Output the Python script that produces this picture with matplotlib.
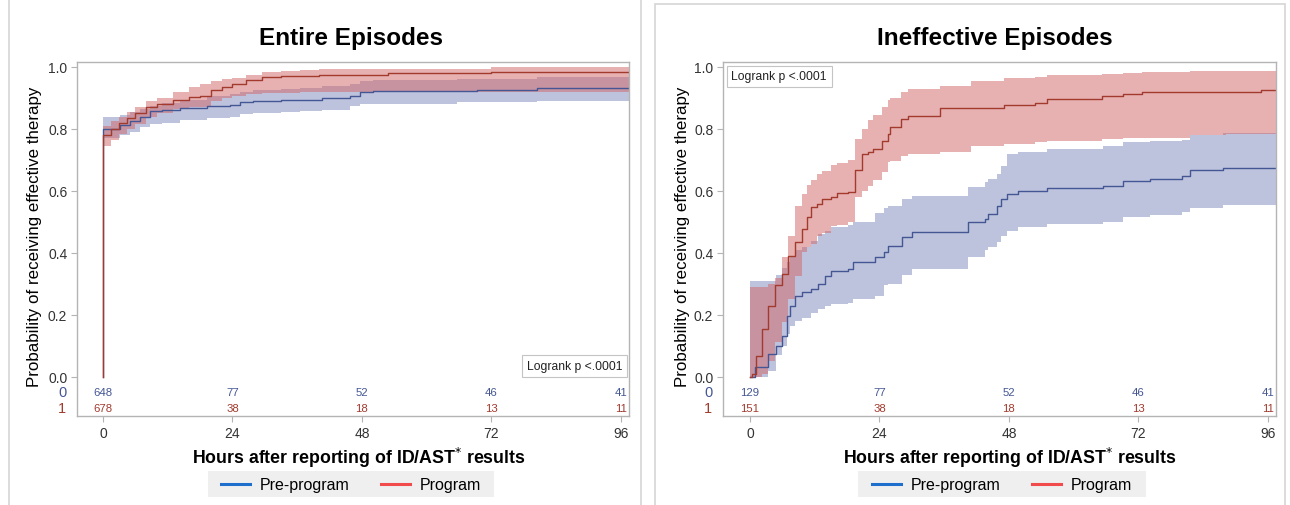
"""
Kaplan-Meier style curves (probability of receiving effective therapy)
for pre-program vs program episodes, entire and ineffective episodes.
"""

import numpy as np
import matplotlib.pyplot as plt
from matplotlib.patches import Rectangle
from matplotlib.lines import Line2D
import matplotlib.transforms as mtransforms

plt.rcParams["font.family"] = ["Liberation Sans", "DejaVu Sans"]

# %% Data (hours, probability)
# Entire episodes - pre-program
ent_pre_t = [0, 0, 3.2, 5, 6.9, 8.7, 11, 14.3, 19.3, 23.5, 25.4, 27.8, 33, 36.5, 40.6, 45.8, 47.6, 50, 65.6, 69.3, 80.4, 97.5]
ent_pre_est = [0, 0.80, 0.813, 0.825, 0.84, 0.859, 0.862, 0.868, 0.875, 0.877, 0.886, 0.89, 0.893, 0.894, 0.899, 0.906, 0.919, 0.921, 0.924, 0.927, 0.932, 0.932]
ent_pre_hi = [0, 0.84, 0.845, 0.855, 0.865, 0.875, 0.885, 0.895, 0.905, 0.912, 0.92, 0.925, 0.93, 0.932, 0.94, 0.945, 0.955, 0.957, 0.96, 0.962, 0.966, 0.966]
ent_pre_lo = [0, 0.77, 0.78, 0.79, 0.805, 0.815, 0.82, 0.828, 0.835, 0.84, 0.847, 0.85, 0.855, 0.857, 0.86, 0.875, 0.88, 0.882, 0.886, 0.888, 0.891, 0.891]

# Entire episodes - program
ent_prog_t = [0, 0, 1.5, 3, 4.5, 6, 8, 10, 13, 16, 18, 20, 22, 24, 26.5, 29.5, 33, 36.5, 40, 52.8, 72, 97.5]
ent_prog_est = [0, 0.78, 0.80, 0.82, 0.835, 0.85, 0.87, 0.88, 0.895, 0.903, 0.907, 0.925, 0.935, 0.945, 0.958, 0.967, 0.97, 0.97, 0.973, 0.98, 0.983, 0.983]
ent_prog_hi = [0, 0.81, 0.825, 0.84, 0.855, 0.87, 0.89, 0.90, 0.92, 0.935, 0.945, 0.955, 0.96, 0.965, 0.975, 0.985, 0.988, 0.99, 0.992, 0.995, 0.999, 0.999]
ent_prog_lo = [0, 0.745, 0.765, 0.785, 0.80, 0.815, 0.84, 0.85, 0.865, 0.87, 0.872, 0.89, 0.90, 0.905, 0.912, 0.915, 0.917, 0.918, 0.918, 0.918, 0.918, 0.918]

# Ineffective episodes - pre-program
ine_pre_t = [0, 0.9, 3.4, 4.9, 5.9, 6.8, 7.4, 8.3, 9.6, 11.4, 12.7, 13.9, 15.1, 18.2, 19.1, 23.1, 24.9, 25.6, 28.1, 30.0,
             40.5, 43.5, 44.2, 45.7, 46.6, 47.6, 49.7, 55.0, 65.5, 69.2, 74.1, 80.0, 81.5, 87.7, 97.5]
ine_pre_est = [0, 0.033, 0.074, 0.101, 0.133, 0.198, 0.23, 0.262, 0.273, 0.284, 0.30, 0.327, 0.343, 0.348, 0.37, 0.386, 0.402, 0.424, 0.45, 0.466,
               0.50, 0.51, 0.526, 0.553, 0.574, 0.59, 0.601, 0.608, 0.617, 0.633, 0.64, 0.649, 0.666, 0.673, 0.673]
ine_pre_hi = [0.31, 0.31, 0.31, 0.33, 0.35, 0.37, 0.39, 0.408, 0.42, 0.44, 0.46, 0.47, 0.485, 0.49, 0.5, 0.53, 0.545, 0.553, 0.574, 0.585,
              0.612, 0.628, 0.64, 0.655, 0.68, 0.719, 0.725, 0.735, 0.746, 0.757, 0.762, 0.765, 0.779, 0.787, 0.787]
ine_pre_lo = [0, 0, 0.02, 0.07, 0.10, 0.14, 0.165, 0.18, 0.19, 0.205, 0.219, 0.228, 0.235, 0.24, 0.25, 0.262, 0.295, 0.30, 0.33, 0.348,
              0.386, 0.408, 0.42, 0.434, 0.456, 0.472, 0.485, 0.494, 0.501, 0.515, 0.523, 0.531, 0.544, 0.555, 0.555]

# Ineffective episodes - program
ine_prog_t = [0, 0.3, 1.2, 2.2, 3.4, 4.6, 5.9, 7.1, 8.3, 9.6, 10.5, 11.4, 12.4, 13.3, 15.1, 16.1, 18.2, 19.5, 20.7, 21.9,
              22.8, 24.4, 25.5, 25.9, 28.0, 29.3, 35.2, 41.0, 47.0, 52.8, 55.0, 65.2, 69.2, 72.6, 81.5, 88.3, 94.8, 97.5]
ine_prog_est = [0, 0.01, 0.069, 0.155, 0.23, 0.295, 0.332, 0.391, 0.434, 0.477, 0.515, 0.547, 0.558, 0.575, 0.58, 0.594, 0.596, 0.666, 0.719, 0.725,
                0.735, 0.762, 0.784, 0.805, 0.832, 0.841, 0.868, 0.868, 0.877, 0.884, 0.897, 0.905, 0.913, 0.92, 0.92, 0.92, 0.927, 0.927]
ine_prog_hi = [0.29, 0.29, 0.29, 0.29, 0.30, 0.32, 0.386, 0.456, 0.553, 0.59, 0.62, 0.635, 0.655, 0.665, 0.685, 0.69, 0.70, 0.768, 0.80, 0.828,
               0.845, 0.87, 0.892, 0.90, 0.92, 0.928, 0.94, 0.956, 0.963, 0.968, 0.974, 0.978, 0.982, 0.985, 0.986, 0.987, 0.988, 0.988]
ine_prog_lo = [0, 0, 0, 0.01, 0.05, 0.112, 0.177, 0.252, 0.327, 0.403, 0.42, 0.43, 0.456, 0.465, 0.488, 0.49, 0.50, 0.579, 0.60, 0.617,
               0.635, 0.66, 0.695, 0.698, 0.712, 0.719, 0.725, 0.746, 0.75, 0.758, 0.762, 0.768, 0.77, 0.772, 0.779, 0.784, 0.784, 0.784]

# Number at risk
risk_hours = [0, 24, 48, 72, 96]
ent_risk_pre = [648, 77, 52, 46, 41]
ent_risk_prog = [678, 38, 18, 13, 11]
ine_risk_pre = [129, 77, 52, 46, 41]
ine_risk_prog = [151, 38, 18, 13, 11]

# %% Style
C_PRE = "#445694"
C_PROG = "#A23A2E"
BAND_PRE = "#7D89BD"
BAND_PROG = "#D16565"
LEG_PRE = "#1F6FCC"
LEG_PROG = "#F24B4B"
GREY = "#B4B4B4"
TXT = "#333333"

W, H = 1290, 506
fig = plt.figure(figsize=(W / 100, H / 100), dpi=100)

# panel frames
fig.patches.append(Rectangle((9 / W, -0.05), 632 / W, 1.2, transform=fig.transFigure,
                             fill=False, ec="#D6D6D6", lw=1.2))
fig.patches.append(Rectangle((655 / W, -0.05), 630 / W, 1 - 5 / H + 0.05, transform=fig.transFigure,
                             fill=False, ec="#D6D6D6", lw=1.2))

PANELS = [
    dict(title="Entire Episodes", left=77, right=629, xmin=-4.8,
         pre=(ent_pre_t, ent_pre_est, ent_pre_lo, ent_pre_hi),
         prog=(ent_prog_t, ent_prog_est, ent_prog_lo, ent_prog_hi),
         risk=(ent_risk_pre, ent_risk_prog), logrank="lower right",
         title_x=351, xlab_x=359, ylab_x=35, leg=(208, 494)),
    dict(title="Ineffective Episodes", left=723, right=1276, xmin=-5.0,
         pre=(ine_pre_t, ine_pre_est, ine_pre_lo, ine_pre_hi),
         prog=(ine_prog_t, ine_prog_est, ine_prog_lo, ine_prog_hi),
         risk=(ine_risk_pre, ine_risk_prog), logrank="upper left",
         title_x=995, xlab_x=1010, ylab_x=683, leg=(858, 1146)),
]

TOP, BOTTOM = 63, 417

for p in PANELS:
    ax = fig.add_axes([p["left"] / W, 1 - BOTTOM / H, (p["right"] - p["left"]) / W, (BOTTOM - TOP) / H])

    # bands first, then lines
    for (t, est, lo, hi), band in ((p["pre"], BAND_PRE), (p["prog"], BAND_PROG)):
        ax.fill_between(t, lo, hi, step="post", color=band, alpha=0.5, lw=0)
    for (t, est, lo, hi), c in ((p["pre"], C_PRE), (p["prog"], C_PROG)):
        ax.step(t, est, where="post", color=c, lw=1.0)

    ax.set_xlim(p["xmin"], 97.5)
    ax.set_ylim(-0.126, 1.016)
    ax.set_xticks(risk_hours)
    ax.set_yticks([0, 0.2, 0.4, 0.6, 0.8, 1.0])
    ax.set_yticklabels([f"{v:.1f}" for v in [0, 0.2, 0.4, 0.6, 0.8, 1.0]])
    ax.tick_params(length=4, width=0.8, color=GREY, labelcolor=TXT, labelsize=10, pad=3)
    for s in ax.spines.values():
        s.set_color(GREY)
        s.set_linewidth(1.0)

    # number at risk rows
    pre_n, prog_n = p["risk"]
    for h, n0, n1 in zip(risk_hours, pre_n, prog_n):
        ax.text(h, -0.048, str(n0), color=C_PRE, fontsize=8.2, ha="center", va="center")
        ax.text(h, -0.100, str(n1), color=C_PROG, fontsize=8.2, ha="center", va="center")
    tr = mtransforms.blended_transform_factory(ax.transAxes, ax.transData)
    ax.text(-0.027, -0.048, "0", color=C_PRE, fontsize=10.5, ha="center", va="center", transform=tr)
    ax.text(-0.027, -0.100, "1", color=C_PROG, fontsize=10.5, ha="center", va="center", transform=tr)

    box = dict(boxstyle="square,pad=0.4", fc="white", ec="#C4C4C4", lw=0.8)
    if p["logrank"] == "lower right":
        ax.text(0.988, 0.125, "Logrank p <.0001", transform=ax.transAxes, ha="right", va="bottom",
                fontsize=8.7, color="#222222", bbox=box)
    else:
        ax.text(0.0152, 0.976, "Logrank p <.0001", transform=ax.transAxes, ha="left", va="top",
                fontsize=8.7, color="#222222", bbox=box)

    fig.text(p["title_x"] / W, 1 - 38 / H, p["title"], ha="center", va="center",
             fontsize=17.5, fontweight="bold")
    fig.text(p["xlab_x"] / W, 1 - 458 / H, "Hours after reporting of ID/AST$^{*}$ results",
             ha="center", va="center", fontsize=12.8, fontweight="bold")
    fig.text(p["ylab_x"] / W, 1 - 237 / H, "Probability of receiving effective therapy",
             ha="center", va="center", rotation=90, fontsize=12.2)

    # legend: grey strip with two entries
    x0, x1 = p["leg"]
    fig.patches.append(Rectangle((x0 / W, 1 - 498 / H), (x1 - x0) / W, 26 / H,
                                 transform=fig.transFigure, fc="#EFEFEF", ec="none"))
    handles = [Line2D([], [], color=LEG_PRE, lw=2.2), Line2D([], [], color=LEG_PROG, lw=2.2)]
    fig.legend(handles, ["Pre-program", "Program"], loc="center", ncol=2,
               bbox_to_anchor=((x0 + x1) / 2 / W, 1 - 486 / H), bbox_transform=fig.transFigure,
               fontsize=11.5, frameon=False, handlelength=1.8, handletextpad=0.6, columnspacing=2.0,
               borderpad=0.2, borderaxespad=0)

fig.savefig("out.png", dpi=100)
